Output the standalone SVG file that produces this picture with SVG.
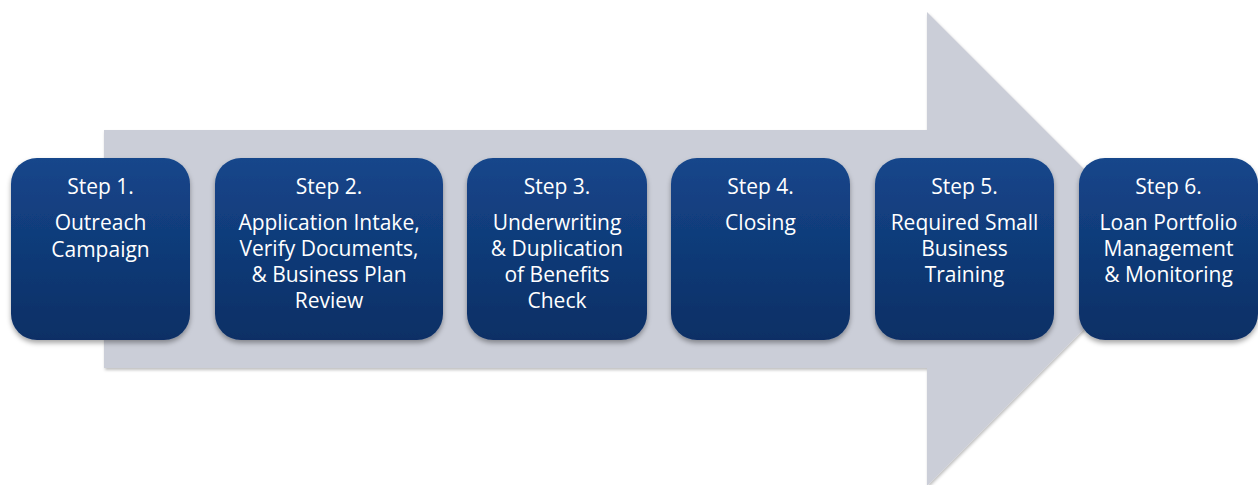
<svg xmlns="http://www.w3.org/2000/svg" width="1258" height="485" viewBox="0 0 1258 485">
  <defs>
    <linearGradient id="boxFill" x1="0" y1="0" x2="0" y2="1">
      <stop offset="0" stop-color="#15468b"/>
      <stop offset="1" stop-color="#0b2f65"/>
    </linearGradient>
    <filter id="boxShadow" x="-10%" y="-10%" width="120%" height="125%">
      <feDropShadow dx="0" dy="3" stdDeviation="2.5" flood-color="#000" flood-opacity="0.35"/>
    </filter>
    <filter id="arrowShadow" x="-5%" y="-5%" width="110%" height="110%">
      <feDropShadow dx="1" dy="2" stdDeviation="1.5" flood-color="#000" flood-opacity="0.25"/>
    </filter>
  </defs>
  <style>
    .box { fill: url(#boxFill); filter: url(#boxShadow); }
    .label { fill: #ffffff; font-family: "Open Sans", "Liberation Sans", sans-serif; font-size: 21px; text-anchor: middle; }
  </style>
  <rect width="1258" height="485" fill="#ffffff"/>

  <!-- big process arrow behind the steps -->
  <g id="connectors">
    <path d="M104,130 H927 V12 L1164,249 L927,486 V368 H104 Z" fill="#cbced8" filter="url(#arrowShadow)"/>
  </g>

  <g id="step1">
    <rect class="box" x="11" y="158" width="179" height="182" rx="26"/>
    <text class="label" x="100.5" y="194">Step 1.</text>
    <text class="label" x="100.5" y="230">Outreach</text>
    <text class="label" x="100.5" y="257">Campaign</text>
  </g>

  <g id="step2">
    <rect class="box" x="215" y="158" width="228" height="182" rx="26"/>
    <text class="label" x="329" y="194">Step 2.</text>
    <text class="label" x="329" y="230">Application Intake,</text>
    <text class="label" x="329" y="256">Verify Documents,</text>
    <text class="label" x="329" y="282">&amp; Business Plan</text>
    <text class="label" x="329" y="308">Review</text>
  </g>

  <g id="step3">
    <rect class="box" x="467" y="158" width="180" height="182" rx="26"/>
    <text class="label" x="557" y="194">Step 3.</text>
    <text class="label" x="557" y="230">Underwriting</text>
    <text class="label" x="557" y="256">&amp; Duplication</text>
    <text class="label" x="557" y="282">of Benefits</text>
    <text class="label" x="557" y="308">Check</text>
  </g>

  <g id="step4">
    <rect class="box" x="671" y="158" width="179" height="182" rx="26"/>
    <text class="label" x="760.5" y="194">Step 4.</text>
    <text class="label" x="760.5" y="230">Closing</text>
  </g>

  <g id="step5">
    <rect class="box" x="875" y="158" width="179" height="182" rx="26"/>
    <text class="label" x="964.5" y="194">Step 5.</text>
    <text class="label" x="964.5" y="230">Required Small</text>
    <text class="label" x="964.5" y="256">Business</text>
    <text class="label" x="964.5" y="282">Training</text>
  </g>

  <g id="step6">
    <rect class="box" x="1079" y="158" width="179" height="182" rx="26"/>
    <text class="label" x="1168.5" y="194">Step 6.</text>
    <text class="label" x="1168.5" y="230">Loan Portfolio</text>
    <text class="label" x="1168.5" y="256">Management</text>
    <text class="label" x="1168.5" y="282">&amp; Monitoring</text>
  </g>
</svg>
